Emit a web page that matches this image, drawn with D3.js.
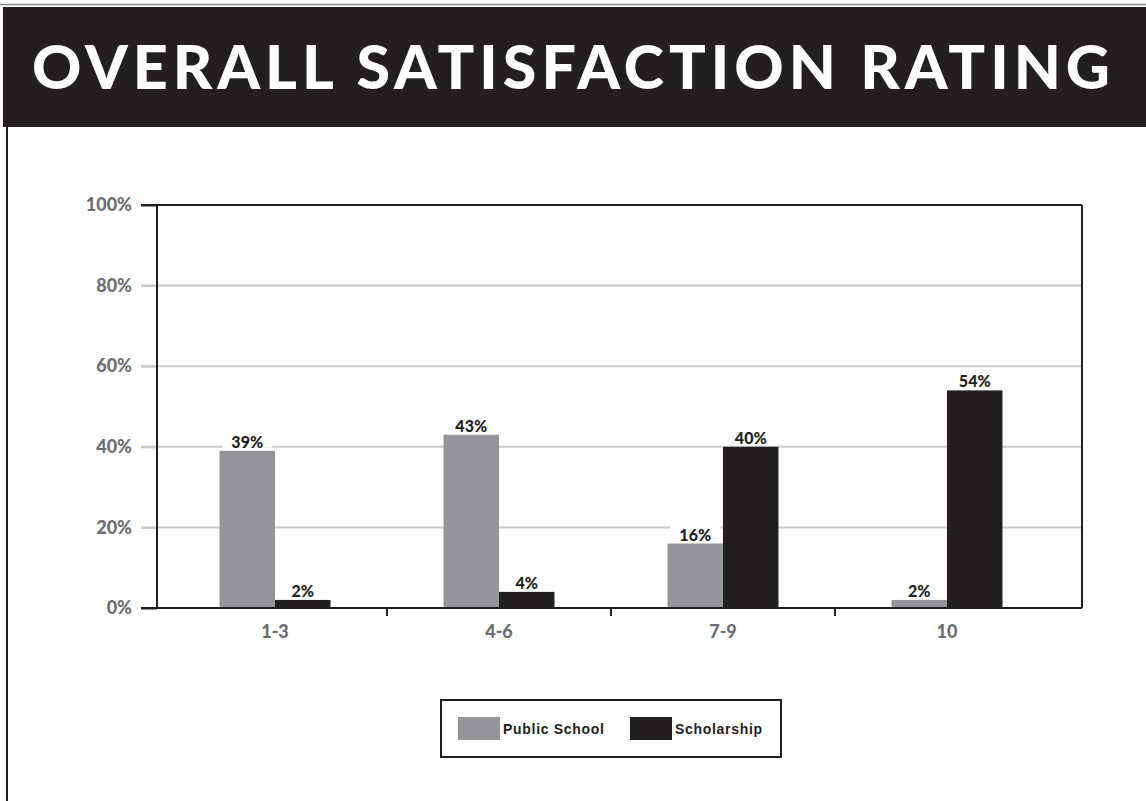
<!DOCTYPE html>
<html>
<head>
<meta charset="utf-8">
<script src="https://cdn.jsdelivr.net/npm/d3@7"></script>
<style>
  html, body { margin: 0; padding: 0; background: #ffffff; }
  svg { display: block; }
</style>
</head>
<body>
<div id="chart"></div>
<script>
// Satisfaction rating buckets and the share of respondents in each
const categories = ["1-3", "4-6", "7-9", "10"];
const seriesNames = ["Public School", "Scholarship"];
const publicSchool = [39, 43, 16, 2];
const scholarship = [2, 4, 40, 54];
const yTicks = [0, 20, 40, 60, 80, 100];
const titleText = "OVERALL SATISFACTION RATING";

const W = 1146, H = 801;
const ink = "#231f20";
const seriesColors = ["#939598", ink];
const axisGray = "#6d6e71";
const gridGray = "#c9cacb";
const chartFont = "Lato, 'Open Sans', sans-serif";

const svg = d3.select("#chart").append("svg")
  .attr("width", W).attr("height", H);

// Page frame: thin rule at top, dark title banner, left border
svg.append("line").attr("x1", 0).attr("x2", W).attr("y1", 4.5).attr("y2", 4.5)
  .attr("stroke", "#8a8a8a").attr("stroke-width", 1.5);
svg.append("rect").attr("x", 3).attr("y", 7).attr("width", W - 3).attr("height", 120)
  .attr("fill", ink);
svg.append("line").attr("x1", 7).attr("x2", 7).attr("y1", 127).attr("y2", H)
  .attr("stroke", ink).attr("stroke-width", 2);
svg.append("text")
  .attr("x", 32).attr("y", 89)
  .attr("textLength", 1078).attr("lengthAdjust", "spacing")
  .attr("font-family", chartFont)
  .attr("font-weight", 900).attr("font-size", 61)
  .attr("fill", "#ffffff")
  .text(titleText);

// Plot geometry
const plot = { left: 157, right: 1082, top: 205, bottom: 608 };

const y = d3.scaleLinear().domain([0, 100]).range([plot.bottom, plot.top]);
const x = d3.scaleBand().domain(categories).range([163, 1059]).paddingInner(0);
const groupWidth = 111;
const xSub = d3.scaleBand().domain(seriesNames)
  .range([x.bandwidth() / 2 - groupWidth / 2, x.bandwidth() / 2 + groupWidth / 2]);

// Gridlines (20% .. 80%)
svg.append("g").selectAll("line")
  .data(yTicks.filter(t => t > 0 && t < 100))
  .join("line")
  .attr("x1", 141).attr("x2", plot.right)
  .attr("y1", d => y(d)).attr("y2", d => y(d))
  .attr("stroke", gridGray).attr("stroke-width", 2);

// Y axis labels with the ticks drawn through d3.axisLeft
const yAxis = svg.append("g")
  .attr("transform", `translate(${plot.left},0)`)
  .call(d3.axisLeft(y).tickValues(yTicks).tickFormat(d => d + "%").tickSize(16).tickPadding(9));
yAxis.select(".domain").remove();
yAxis.selectAll(".tick line")
  .attr("stroke", d => (d === 0 || d === 100) ? ink : gridGray)
  .attr("stroke-width", 2);
yAxis.selectAll(".tick text")
  .attr("font-family", chartFont)
  .attr("font-weight", 900).attr("font-size", 18)
  .attr("fill", axisGray);

// Bars
const rows = categories.map((c, i) => ({
  cat: c,
  vals: [
    { name: seriesNames[0], v: publicSchool[i], color: seriesColors[0] },
    { name: seriesNames[1], v: scholarship[i], color: seriesColors[1] }
  ]
}));

const groups = svg.append("g").selectAll("g")
  .data(rows).join("g")
  .attr("transform", d => `translate(${x(d.cat)},0)`);

groups.selectAll("rect")
  .data(d => d.vals).join("rect")
  .attr("x", d => xSub(d.name))
  .attr("y", d => y(d.v))
  .attr("width", xSub.bandwidth())
  .attr("height", d => y(0) - y(d.v))
  .attr("fill", d => d.color);

// Value labels, knocked out of the gridlines with a white backing
const labels = groups.selectAll("g.lab")
  .data(d => d.vals).join("g").attr("class", "lab")
  .attr("transform", d => `translate(${xSub(d.name) + xSub.bandwidth() / 2},${y(d.v) - 3})`);
labels.append("rect")
  .attr("x", -25).attr("y", -15).attr("width", 50).attr("height", 15)
  .attr("fill", "#ffffff");
labels.append("text")
  .attr("text-anchor", "middle")
  .attr("font-family", chartFont)
  .attr("font-weight", 900).attr("font-size", 16)
  .attr("fill", ink)
  .text(d => d.v + "%");

// Plot frame
const frame = svg.append("g").attr("stroke", ink).attr("stroke-width", 2).attr("fill", "none");
frame.append("line").attr("x1", 141).attr("x2", plot.right).attr("y1", plot.top).attr("y2", plot.top);
frame.append("line").attr("x1", plot.left).attr("x2", plot.left).attr("y1", plot.top).attr("y2", plot.bottom);
frame.append("line").attr("x1", plot.right).attr("x2", plot.right).attr("y1", plot.top).attr("y2", plot.bottom);
frame.append("line").attr("x1", 141).attr("x2", plot.right).attr("y1", plot.bottom).attr("y2", plot.bottom);

// Category dividers below the baseline
svg.append("g").selectAll("line")
  .data(categories.slice(1))
  .join("line")
  .attr("x1", d => x(d)).attr("x2", d => x(d))
  .attr("y1", plot.bottom).attr("y2", plot.bottom + 8)
  .attr("stroke", ink).attr("stroke-width", 2);

// Category labels
svg.append("g").selectAll("text")
  .data(categories).join("text")
  .attr("x", d => x(d) + x.bandwidth() / 2)
  .attr("y", 638)
  .attr("text-anchor", "middle")
  .attr("font-family", chartFont)
  .attr("font-weight", 900).attr("font-size", 18)
  .attr("fill", axisGray)
  .text(d => d);

// Legend
const legend = svg.append("g").attr("transform", "translate(441,700)");
legend.append("rect").attr("width", 340).attr("height", 57)
  .attr("fill", "#ffffff").attr("stroke", ink).attr("stroke-width", 2);
const legendX = [17, 189];
const items = legend.selectAll("g.item")
  .data(seriesNames).join("g").attr("class", "item")
  .attr("transform", (d, i) => `translate(${legendX[i]},17)`);
items.append("rect").attr("width", 42).attr("height", 23)
  .attr("fill", (d, i) => seriesColors[i]);
items.append("text")
  .attr("x", 45).attr("y", 16.5)
  .attr("font-family", "'Liberation Sans', Arial, sans-serif")
  .attr("font-weight", 700).attr("font-size", 14)
  .attr("letter-spacing", 0.7)
  .attr("fill", ink)
  .text(d => d);
</script>
</body>
</html>
